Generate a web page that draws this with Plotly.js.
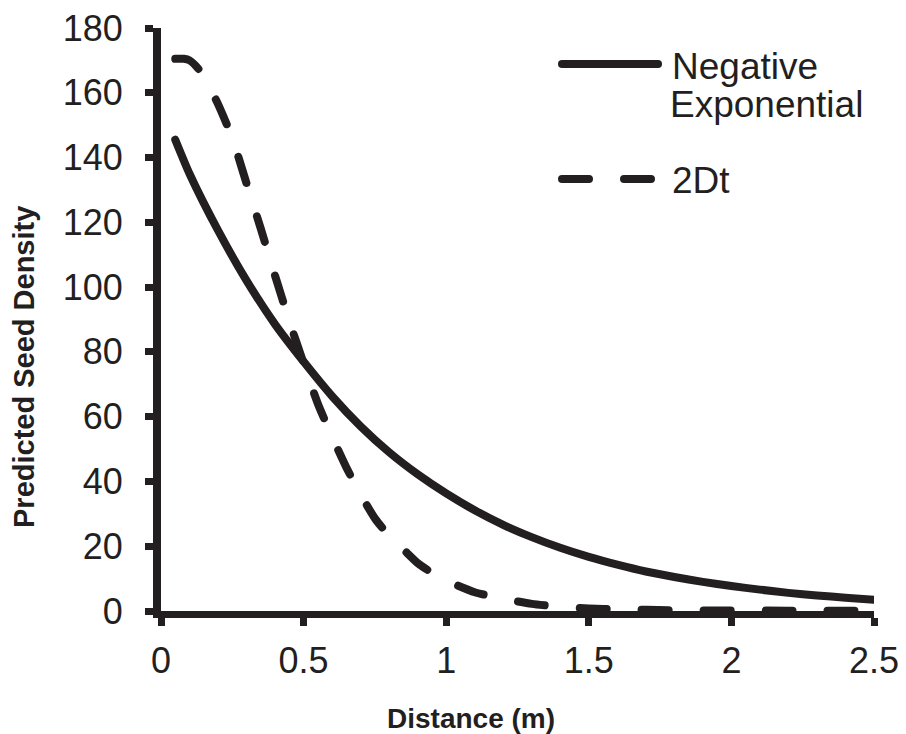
<!DOCTYPE html>
<html>
<head>
<meta charset="utf-8">
<script src="https://cdn.plot.ly/plotly-3.0.1.min.js"></script>
<style>
  html, body { margin: 0; padding: 0; background: #fff; }
  #chart { width: 906px; height: 734px; }
  .scatterlayer path.js-line { stroke-linecap: round; stroke-linejoin: round; }
  .shapelayer path { stroke-linecap: round; }
</style>
</head>
<body>
<div id="chart"></div>
<script>
// ---- data ----
var negExpX = [0.05, 0.1, 0.2, 0.3, 0.4, 0.5, 0.6, 0.7, 0.8, 0.9, 1.0, 1.1, 1.2, 1.3, 1.4, 1.5, 1.6, 1.7, 1.8, 1.9, 2.0, 2.1, 2.2, 2.3, 2.4, 2.5];
var negExpY = [145.5, 135, 117.5, 102, 88.5, 77, 66.3, 57, 49, 42.2, 36.3, 31.1, 26.6, 22.8, 19.5, 16.7, 14.3, 12.2, 10.5, 9.0, 7.7, 6.6, 5.6, 4.8, 4.1, 3.5];

var twoDtX = [0.05, 0.08, 0.1, 0.13, 0.16, 0.2, 0.25, 0.3, 0.35, 0.4, 0.45, 0.5, 0.55, 0.6, 0.65, 0.7, 0.75, 0.8, 0.85, 0.9, 0.95, 1.0, 1.1, 1.2, 1.3, 1.4, 1.5, 1.6, 1.8, 2.0, 2.2, 2.5];
var twoDtY = [170.5, 170.5, 170, 167.5, 163.5, 156.5, 146, 132, 118, 103.5, 89.5, 76.5, 64, 53.8, 44.3, 36, 28.6, 23.2, 19, 14.8, 11.8, 9.4, 5.8, 3.8, 2.2, 1.3, 0.8, 0.5, 0.25, 0.15, 0.1, 0.05];

var seriesNames = ["Negative Exponential", "2Dt"];
var xTickVals = [0, 0.5, 1, 1.5, 2, 2.5];
var xTickText = ["0", "0.5", "1", "1.5", "2", "2.5"];
var yTickVals = [0, 20, 40, 60, 80, 100, 120, 140, 160, 180];
var xTitle = "Distance (m)";
var yTitle = "Predicted Seed Density";

// ---- layout geometry ----
var W = 906, H = 734;
var L = 161, R = 874, T = 28, B = 611;
var ink = "#231f20";
var FONT = "Liberation Sans, Arial, Helvetica, sans-serif";
function px(x) { return (x - L) / (R - L); }
function py(y) { return (B - y) / (B - T); }

var traces = [
  { x: negExpX, y: negExpY, name: seriesNames[0], type: "scatter", mode: "lines",
    line: { color: ink, width: 8, shape: "spline", smoothing: 0.6 }, showlegend: false, hoverinfo: "skip" },
  { x: twoDtX, y: twoDtY, name: seriesNames[1], type: "scatter", mode: "lines",
    line: { color: ink, width: 8, dash: "27px,35px", shape: "spline", smoothing: 0.6 }, showlegend: false, hoverinfo: "skip" }
];

var layout = {
  width: W, height: H,
  margin: { l: L, r: W - R, t: T, b: H - B, pad: 0 },
  paper_bgcolor: "#fff", plot_bgcolor: "#fff",
  font: { family: FONT, color: ink },
  showlegend: false,
  xaxis: {
    range: [0, 2.5], tickvals: xTickVals, ticktext: xTickText,
    showgrid: false, zeroline: false,
    showline: true, linecolor: ink, linewidth: 7,
    ticks: "outside", ticklen: 8, tickwidth: 7, tickcolor: ink,
    tickfont: { family: FONT, size: 36, color: ink },
    ticklabelstandoff: 4, fixedrange: true
  },
  yaxis: {
    range: [0, 180], tickvals: yTickVals,
    showgrid: false, zeroline: false,
    showline: true, linecolor: ink, linewidth: 8,
    ticks: "outside", ticklen: 8, tickwidth: 7, tickcolor: ink,
    tickfont: { family: FONT, size: 36, color: ink },
    ticklabelstandoff: 15, fixedrange: true
  },
  shapes: [
    { type: "line", xref: "paper", yref: "paper", x0: px(562), x1: px(658), y0: py(64), y1: py(64),
      line: { color: ink, width: 8 } },
    { type: "line", xref: "paper", yref: "paper", x0: px(562), x1: px(658), y0: py(179), y1: py(179),
      line: { color: ink, width: 8, dash: "27px,35px" } }
  ],
  annotations: [
    { text: "Negative", xref: "paper", yref: "paper", x: px(670), y: py(67), xanchor: "left", yanchor: "middle",
      showarrow: false, font: { family: FONT, size: 37, color: ink } },
    { text: "Exponential", xref: "paper", yref: "paper", x: px(668), y: py(105), xanchor: "left", yanchor: "middle",
      showarrow: false, font: { family: FONT, size: 37, color: ink } },
    { text: "2Dt", xref: "paper", yref: "paper", x: px(670), y: py(180), xanchor: "left", yanchor: "middle",
      showarrow: false, font: { family: FONT, size: 37, color: ink } },
    { text: "<b>" + xTitle + "</b>", xref: "paper", yref: "paper", x: px(471), y: py(718), xanchor: "center", yanchor: "middle",
      showarrow: false, font: { family: FONT, size: 28, color: ink } },
    { text: "<b>" + yTitle + "</b>", xref: "paper", yref: "paper", x: px(24), y: py(367), xanchor: "center", yanchor: "middle",
      textangle: -90, showarrow: false, font: { family: FONT, size: 29, color: ink } }
  ]
};

Plotly.newPlot("chart", traces, layout, { staticPlot: true, displayModeBar: false });
</script>
</body>
</html>
